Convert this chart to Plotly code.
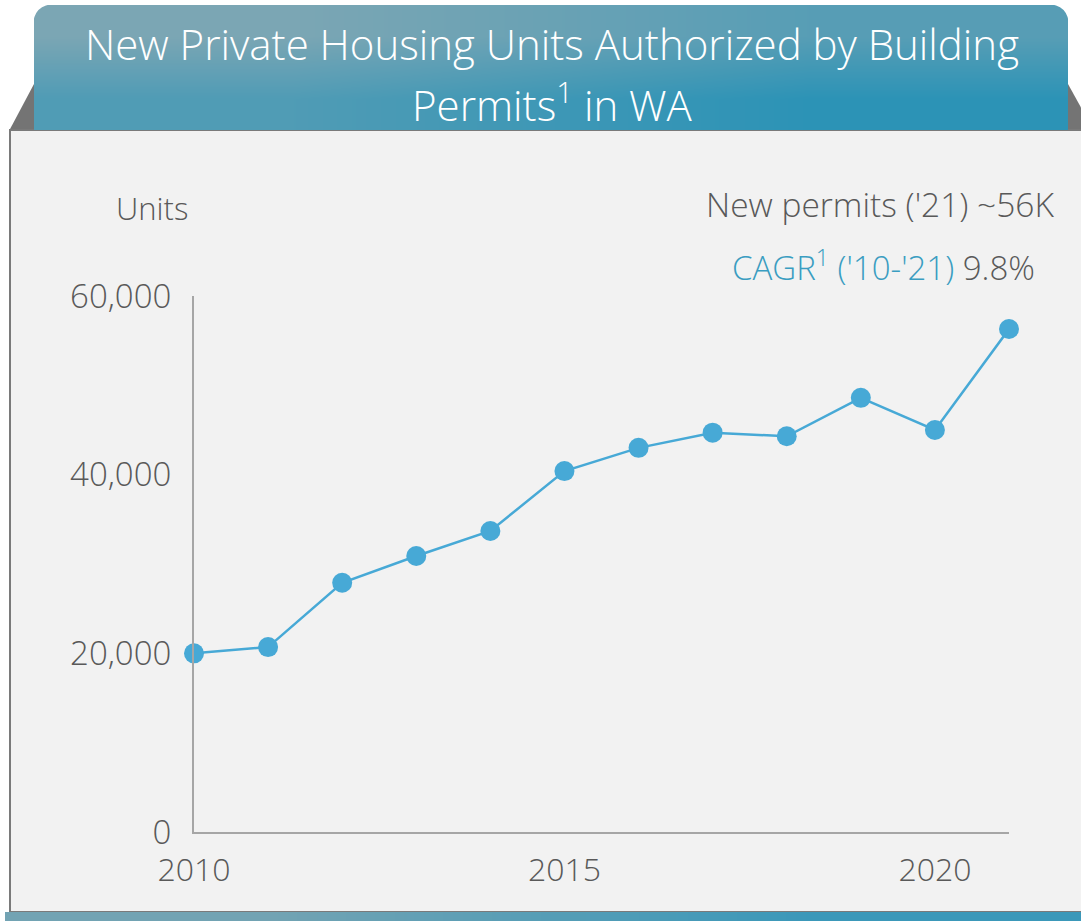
import plotly.graph_objects as go

# ---- data ----
years = [2010, 2011, 2012, 2013, 2014, 2015, 2016, 2017, 2018, 2019, 2020, 2021]
permits = [20000, 20700, 27900, 30900, 33700, 40400, 43000, 44700, 44300, 48600, 45000, 56300]
x_tick_vals = [2010, 2015, 2020]
x_tick_text = ["2010", "2015", "2020"]
y_tick_vals = [0, 20000, 40000, 60000]
y_tick_text = ["0", "20,000", "40,000", "60,000"]

title_line1 = "New Private Housing Units Authorized by Building"
title_line2 = "Permits<sup>1</sup> in WA"
y_label = "Units"
note1 = "New permits ('21) ~56K"
note2_colored = "CAGR<sup>1</sup> ('10-'21)"
note2_value = "9.8%"

# ---- styling ----
W, H = 1081, 921
FONT = "Open Sans"
GRAY = "#595959"
BLUE = "#47a9d6"
CAGR_BLUE = "#3a9dc1"


def px(x):
    return x / W


def py(y):
    return 1 - y / H


def path(points):
    return "M " + " L ".join(f"{px(a):.5f},{py(b):.5f}" for a, b in points) + " Z"


fig = go.Figure()

# banner gradient (heatmap on hidden pixel axes)
fig.add_trace(go.Heatmap(
    x=[34, 551, 1068], y=[5, 67, 130],
    z=[[0.0, 0.45], [0.55, 1.0]],
    zsmooth="best", showscale=False, hoverinfo="skip",
    colorscale=[[0, "#7ba6b4"], [1, "#2c93b6"]],
    xaxis="x2", yaxis="y2",
))
# bottom strip gradient
fig.add_trace(go.Heatmap(
    x=[5, 540, 1081], y=[912, 916, 921],
    z=[[0.0, 1.0], [0.0, 1.0]],
    zsmooth="best", showscale=False, hoverinfo="skip",
    colorscale=[[0, "#72a3b3"], [1, "#3b98b9"]],
    xaxis="x2", yaxis="y2",
))

# main series
fig.add_trace(go.Scatter(
    x=years, y=permits, mode="lines+markers",
    line=dict(color=BLUE, width=2.5),
    marker=dict(color=BLUE, size=20),
    cliponaxis=False, hoverinfo="skip", showlegend=False,
))

shapes = [
    dict(type="path", xref="paper", yref="paper", layer="below",
         path=path([(9, 131), (34, 84), (1068, 84), (1094, 131)]),
         fillcolor="#747474", line=dict(width=0)),
    dict(type="rect", xref="paper", yref="paper", layer="below",
         x0=px(10), x1=px(1100), y0=py(912), y1=py(130),
         fillcolor="#f2f2f2", line=dict(color="#7a7a7a", width=2)),
    dict(type="path", xref="paper", yref="paper", layer="above",
         path=f"M {px(33):.5f},{py(4):.5f} L {px(56):.5f},{py(4):.5f} "
              f"Q {px(33):.5f},{py(4):.5f} {px(33):.5f},{py(27):.5f} Z",
         fillcolor="white", line=dict(width=0)),
    dict(type="path", xref="paper", yref="paper", layer="above",
         path=f"M {px(1069):.5f},{py(4):.5f} L {px(1046):.5f},{py(4):.5f} "
              f"Q {px(1069):.5f},{py(4):.5f} {px(1069):.5f},{py(27):.5f} Z",
         fillcolor="white", line=dict(width=0)),
]

annotations = [
    dict(text=title_line1, x=px(552), y=py(43), xref="paper", yref="paper",
         showarrow=False, xanchor="center", yanchor="middle",
         font=dict(family=FONT, size=42, color="white", weight=300)),
    dict(text=title_line2, x=px(552), y=py(102), xref="paper", yref="paper",
         showarrow=False, xanchor="center", yanchor="middle",
         font=dict(family=FONT, size=42, color="white", weight=300)),
    dict(text=y_label, x=px(152), y=py(208), xref="paper", yref="paper",
         showarrow=False, xanchor="center", yanchor="middle",
         font=dict(family=FONT, size=31, color=GRAY, weight=300)),
    dict(text=note1, x=px(1056), y=py(204), xref="paper", yref="paper",
         showarrow=False, xanchor="right", yanchor="middle",
         font=dict(family=FONT, size=33.5, color=GRAY, weight=300)),
    dict(text=f"<span style='color:{CAGR_BLUE}'>{note2_colored}</span> {note2_value}",
         x=px(1037), y=py(265), xref="paper", yref="paper",
         showarrow=False, xanchor="right", yanchor="middle",
         font=dict(family=FONT, size=33, color=GRAY, weight=300)),
]

fig.update_layout(
    template="none",
    width=W, height=H, autosize=False,
    margin=dict(l=0, r=0, t=0, b=0, pad=0, autoexpand=False),
    paper_bgcolor="white",
    plot_bgcolor="rgba(0,0,0,0)",
    showlegend=False,
    shapes=shapes,
    annotations=annotations,
    xaxis=dict(
        domain=[px(194), px(1009)], range=[2010, 2021],
        tickvals=x_tick_vals, ticktext=x_tick_text,
        showgrid=False, zeroline=False, automargin=False,
        showline=True, linecolor="#a6a6a6", linewidth=2,
        ticks="outside", ticklen=9, tickcolor="rgba(0,0,0,0)",
        tickfont=dict(family=FONT, size=32, color=GRAY, weight=300),
        anchor="y",
    ),
    yaxis=dict(
        domain=[py(832), py(296)], range=[0, 60000],
        tickvals=y_tick_vals, ticktext=y_tick_text,
        showgrid=False, zeroline=False, automargin=False,
        showline=True, linecolor="#a6a6a6", linewidth=2,
        ticks="outside", ticklen=14, tickcolor="rgba(0,0,0,0)",
        tickfont=dict(family=FONT, size=33, color=GRAY, weight=300),
        anchor="x",
    ),
    xaxis2=dict(domain=[0, 1], range=[0, W], visible=False, anchor="y2",
                fixedrange=True, automargin=False),
    yaxis2=dict(domain=[0, 1], range=[H, 0], visible=False, anchor="x2",
                fixedrange=True, automargin=False),
)

fig.write_html("out.html", config={"displayModeBar": False},
               post_script="document.body.style.margin='0';")
